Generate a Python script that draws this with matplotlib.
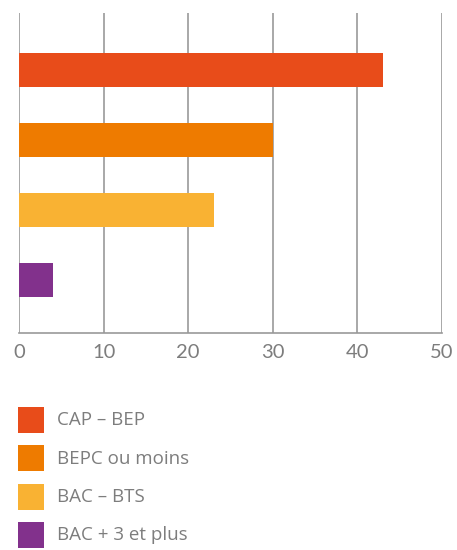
import matplotlib
matplotlib.use("Agg")
import matplotlib.pyplot as plt
from matplotlib.patches import Rectangle

# Education level distribution
categories = ["CAP – BEP", "BEPC ou moins", "BAC – BTS", "BAC + 3 et plus"]
values = [43, 30, 23, 4]
colors = ["#E84C1A", "#EE7B00", "#F9B233", "#82318C"]
xticks = [0, 10, 20, 30, 40, 50]

GRID = "#999999"
TEXT = "#7d7d7d"

fig = plt.figure(figsize=(4.57, 5.50), dpi=100)
ax = fig.add_axes([19 / 457, 1 - 333 / 550, 423 / 457, 320 / 550])

ypos = list(range(len(categories) - 1, -1, -1))
ax.barh(ypos, values, height=0.48, color=colors, zorder=3)

ax.set_xlim(0, 50)
ax.set_ylim(-0.76, 3.81)
ax.set_xticks(xticks)
ax.set_xticklabels([str(t) for t in xticks], fontfamily="Lato",
                   fontsize=14.5, color=TEXT)
ax.set_yticks([])
ax.tick_params(axis="x", length=0, pad=8)
ax.grid(axis="x", color=GRID, linewidth=1.2, zorder=0)
for side in ("top", "right", "left"):
    ax.spines[side].set_visible(False)
ax.spines["bottom"].set_color(GRID)
ax.spines["bottom"].set_linewidth(1.2)

# Legend drawn in its own pixel-unit axes below the chart
lax = fig.add_axes([0, 0, 1, 1])
lax.set_xlim(0, 457)
lax.set_ylim(550, 0)
lax.axis("off")
for i, (lab, col) in enumerate(zip(categories, colors)):
    top = 406.5 + i * 38.5
    lax.add_patch(Rectangle((18, top), 26, 26, color=col, linewidth=0))
    lax.text(57, top + 13.5, lab, fontfamily="Open Sans",
             fontsize=13.5, color=TEXT, va="center", ha="left")

fig.savefig("out.png", dpi=100)
